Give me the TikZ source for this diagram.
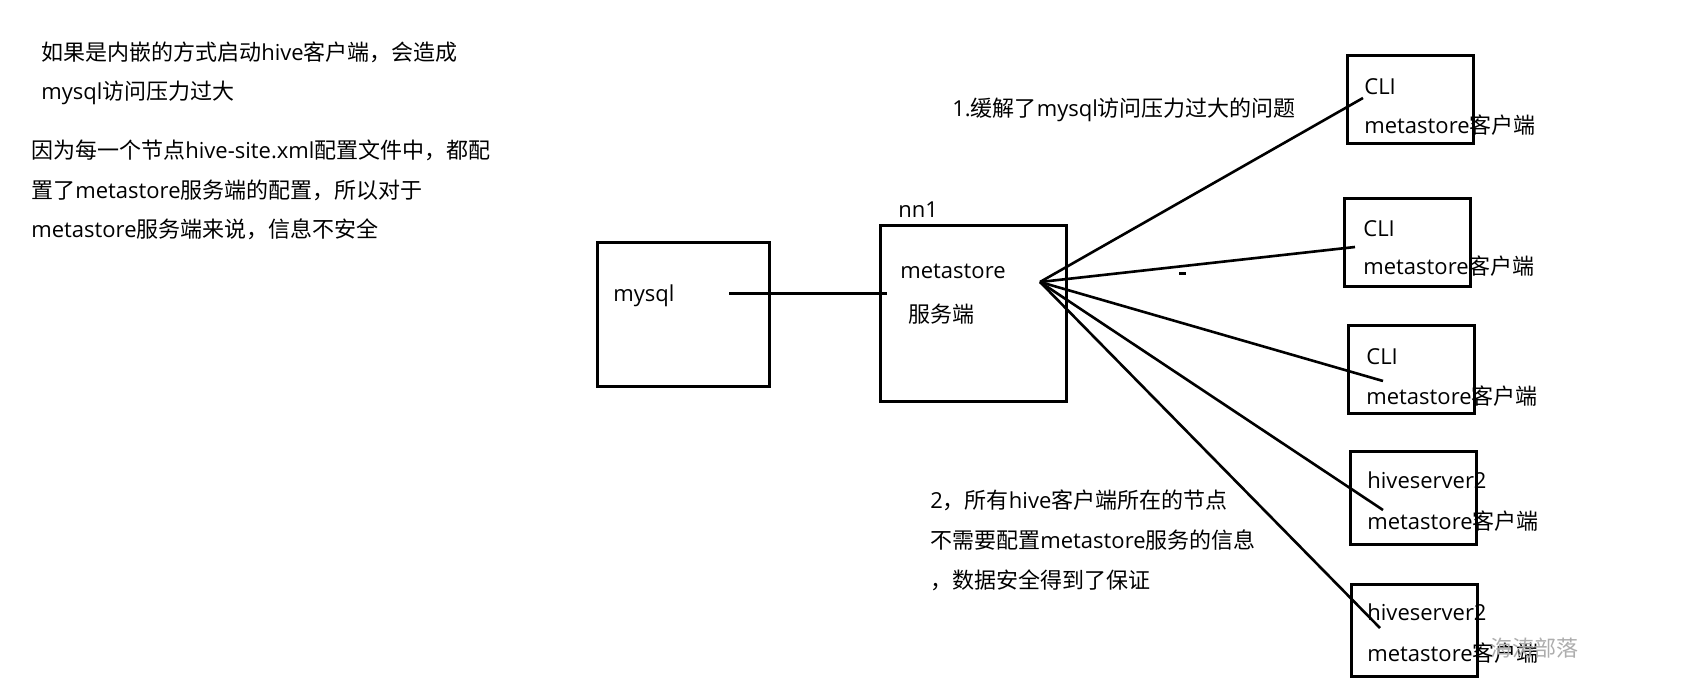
\documentclass[tikz,border=0pt]{standalone}
\usepackage{fontspec}
\setmainfont{Open Sans}
\newfontfamily\cjk{Noto Sans CJK SC}
\newcommand{\zh}[1]{{\cjk #1}}
\usetikzlibrary{positioning}

\begin{document}
\begin{tikzpicture}[
  x=0.5pt, y=-0.5pt,
  box/.style={draw, line width=1.5pt, inner sep=0pt},
  client/.style={box, minimum width=63pt, minimum height=44pt},
  txt/.style={anchor=base west, inner sep=0pt, font=\fontsize{11pt}{13pt}\selectfont},
  conn/.style={line width=1.3pt}
]
\useasboundingbox[fill=white] (0,0) rectangle (1683,695);

% notes on the left
\node[txt] (note1a) at (41,61) {\zh{如果是内嵌的方式启动}hive\zh{客户端，会造成}};
\node[txt] (note1b) at (41,100) {mysql\zh{访问压力过大}};
\node[txt] (note2a) at (31,159) {\zh{因为每一个节点}hive-site.xml\zh{配置文件中，都配}};
\node[txt] (note2b) at (31,199) {\zh{置了}metastore\zh{服务端的配置，所以对于}};
\node[txt] (note2c) at (31,238) {metastore\zh{服务端来说，信息不安全}};

% mysql and metastore server
\node[box, minimum width=86pt, minimum height=72pt] (mysql) at (683,315) {};
\node[txt] (mysqllbl) at (613,302) {mysql};
\node[box, minimum width=93pt, minimum height=88pt] (meta) at (973,314) {};
\node[txt] (nn) at (898,218) {nn1};
\node[txt] (metalbl) at (900,279) {metastore};
\node[txt] (metasrv) at (908,323) {\zh{服务端}};

% clients
\node[client] (client1) at (1410.5,99.5) {};
\node[client] (client2) at (1407.5,242.5) {};
\node[client] (client3) at (1411.5,370) {};
\node[client, minimum height=46pt] (client4) at (1413.5,498) {};
\node[client, minimum height=46pt] (client5) at (1414.5,630.5) {};

\node[txt] (c1top) at (1364,95) {CLI};
\node[txt] (c1bot) at (1364,134) {metastore\zh{客户端}};
\node[txt] (c2top) at (1363,237) {CLI};
\node[txt] (c2bot) at (1363,275) {metastore\zh{客户端}};
\node[txt] (c3top) at (1366,365) {CLI};
\node[txt] (c3bot) at (1366,405) {metastore\zh{客户端}};
\node[txt] (c4top) at (1367,488) {hiveserver2};
\node[txt] (c4bot) at (1367,530) {metastore\zh{客户端}};
\node[txt] (c5top) at (1367,620) {hiveserver2};
\node[txt] (c5bot) at (1367,661) {metastore\zh{客户端}};

% remarks
\node[txt] (gain1) at (952,117) {1.\zh{缓解了}mysql\zh{访问压力过大的问题}};
\node[txt] (gain2a) at (930,509) {2\zh{，所有}hive\zh{客户端所在的节点}};
\node[txt] (gain2b) at (930,548) {\zh{不需要配置}metastore\zh{服务的信息}};
\node[txt] (gain2c) at (930,588) {\zh{，数据安全得到了保证}};

\node[txt, text=black!32, font=\fontsize{11pt}{13pt}\selectfont] (mark) at (1490,656) {\zh{海涛部落}};

% connectors
\coordinate (dbout) at (729,294);
\coordinate (metain) at (887,294);
\coordinate (hub) at (1040,282);
\coordinate (e1) at (1363,98);
\coordinate (e2) at (1355,247);
\coordinate (e3) at (1383,381);
\coordinate (e4) at (1383,510);
\coordinate (e5) at (1380,628);

\draw[conn, line width=1.5pt] (dbout) -- (metain);
\foreach \i in {1,...,5}
  \draw[conn] (hub) -- (e\i);
\fill (1179,272) rectangle (1186,275);
\end{tikzpicture}
\end{document}
